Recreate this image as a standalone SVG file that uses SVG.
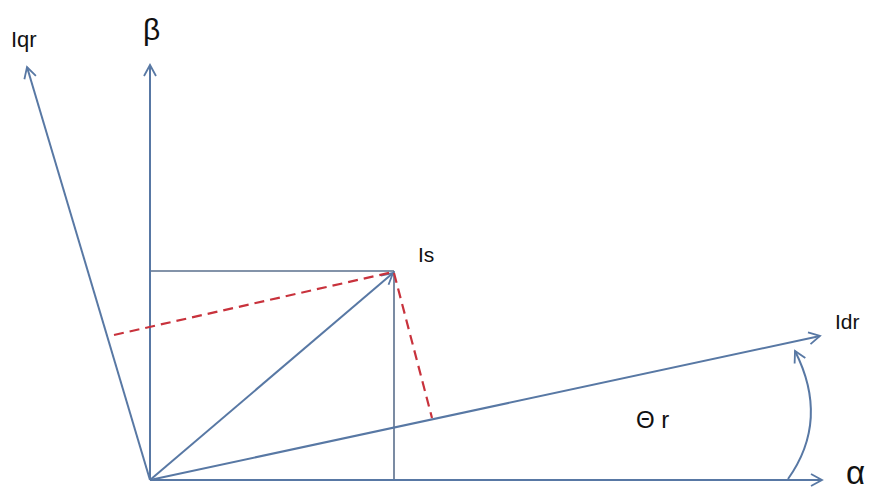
<svg xmlns="http://www.w3.org/2000/svg" width="872" height="490" viewBox="0 0 872 490">
<defs>
<marker id="arr" viewBox="0 0 14 14" refX="12" refY="7" markerWidth="14" markerHeight="14" markerUnits="userSpaceOnUse" orient="auto">
<path d="M1,1 L12,7 L1,13" fill="none" stroke="#5878a4" stroke-width="1.8"/>
</marker>
</defs>
<style>
.ax{stroke:#5878a4;stroke-width:2;fill:none}
.ln{stroke:#5a6f8c;stroke-width:1.6;fill:none}
.rd{stroke:#c8323c;stroke-width:2.2;stroke-dasharray:10,6;fill:none}
.t{font-family:"Liberation Sans",Arial,sans-serif;fill:#111}
</style>
<rect width="872" height="490" fill="#fff"/>
<g id="connectors">
<line class="ln" x1="150" y1="271" x2="394" y2="271"/>
<line class="ln" x1="394" y1="271" x2="394" y2="480"/>
<line class="ax" x1="150" y1="480" x2="822" y2="480" marker-end="url(#arr)"/>
<line class="ax" x1="150" y1="480" x2="150" y2="65" marker-end="url(#arr)"/>
<line class="ax" x1="150" y1="480" x2="27" y2="67" marker-end="url(#arr)"/>
<line class="ax" x1="150" y1="480" x2="820" y2="336" marker-end="url(#arr)"/>
<line class="ax" x1="150" y1="480" x2="393" y2="273" marker-end="url(#arr)"/>
<line class="rd" x1="114" y1="335" x2="393" y2="272"/>
<line class="rd" x1="394" y1="273" x2="432" y2="418"/>
<path class="ax" d="M788,479 Q830,420 795,351" marker-end="url(#arr)"/>
</g>
<g id="label-iqr"><text class="t" x="11" y="47" font-size="22">Iqr</text></g>
<g id="label-beta"><text class="t" x="143" y="40" font-size="30">β</text></g>
<g id="label-is"><text class="t" x="418" y="262" font-size="21">Is</text></g>
<g id="label-idr"><text class="t" x="835" y="329" font-size="21">Idr</text></g>
<g id="label-theta"><text class="t" x="636" y="428" font-size="24">Θ r</text></g>
<g id="label-alpha"><text class="t" x="846" y="484" font-size="33">α</text></g>
</svg>
